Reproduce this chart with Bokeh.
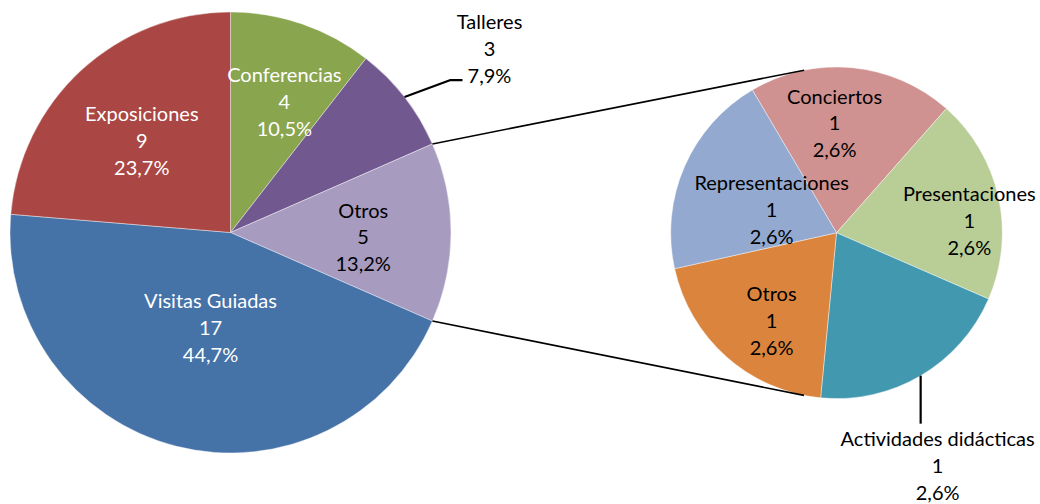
import math
from bokeh.plotting import figure
from bokeh.models import Range1d, ColumnDataSource
from bokeh.core.properties import value
from bokeh.embed import file_html
from bokeh.resources import INLINE

# ---------------- data ----------------
sub_categories = ["Conciertos", "Presentaciones", "Actividades didácticas", "Otros", "Representaciones"]
sub_values = [1, 1, 1, 1, 1]

main_categories = ["Conferencias", "Talleres", "Otros", "Visitas Guiadas", "Exposiciones"]
main_values = [4, 3, sum(sub_values), 17, 9]

# ---------------- styles / layout ----------------
main_colors = ["#89A54E", "#71588F", "#A79BBF", "#4572A7", "#AA4643"]
sub_colors = ["#D09291", "#B9CD96", "#4198AF", "#DB843D", "#93A9CF"]
main_text_colors = ["white", "black", "black", "white", "white"]

W, H = 1040, 504
FONT = "Lato"
FS = "20px"
LH = 1.12


def Y(page_y):
    return H - page_y


MCX, MCY, MR = 230.0, Y(232.0), 220.5
SCX, SCY, SR = 836.0, Y(232.3), 165.8
SUB_ROT = 120.5  # start angle of first secondary slice (deg), clockwise

# label placement: (fraction of radius, angle tweak in deg) ; None = outside label
main_label_pos = [(0.645, -3.3), None, (0.602, -1.7), (0.439, 2.3), (0.582, 1.1)]
sub_label_pos = [(0.666, 6.5), (0.805, -7.1), None, (0.657, 4.9), (0.416, 3.6)]

total = sum(main_values)


def pct(v):
    return ("%.1f" % (100.0 * v / total)).replace(".", ",") + "%"


def slices(values, start_deg):
    s = sum(values)
    out = []
    a = start_deg
    for v in values:
        b = a - 360.0 * v / s
        out.append((a, b))
        a = b
    return out


main_sl = slices(main_values, 90.0)
sub_sl = slices(sub_values, SUB_ROT)

p = figure(width=W, height=H, output_backend="svg", toolbar_location=None,
           x_range=Range1d(0, W), y_range=Range1d(0, H),
           x_axis_type=None, y_axis_type=None, min_border=0,
           outline_line_color=None, background_fill_color="white",
           border_fill_color="white")
p.grid.visible = False

# main pie
msrc = ColumnDataSource(dict(
    start=[math.radians(b) for a, b in main_sl],
    end=[math.radians(a) for a, b in main_sl],
    color=main_colors, cat=main_categories, val=main_values))
p.wedge(x=MCX, y=MCY, radius=MR, start_angle="start", end_angle="end",
        direction="anticlock", fill_color="color", line_color="white",
        line_width=0.6, line_alpha=0.7, source=msrc)

# secondary pie
ssrc = ColumnDataSource(dict(
    start=[math.radians(b) for a, b in sub_sl],
    end=[math.radians(a) for a, b in sub_sl],
    color=sub_colors, cat=sub_categories, val=sub_values))
p.wedge(x=SCX, y=SCY, radius=SR, start_angle="start", end_angle="end",
        direction="anticlock", fill_color="color", line_color="white",
        line_width=0.6, line_alpha=0.7, source=ssrc)

# connector lines (from split edges of "Otros" to tangent points of secondary pie)
oi = main_categories.index("Otros")
a_top, a_bot = main_sl[oi]
for ang, sign in ((a_top, -1), (a_bot, 1)):
    px = MCX + MR * math.cos(math.radians(ang))
    py = MCY + MR * math.sin(math.radians(ang))
    d = math.hypot(px - SCX, py - SCY)
    acp = math.atan2(py - SCY, px - SCX)
    if sign < 0:
        t = acp - math.acos(SR / d)
    else:
        t = acp + math.acos(SR / d)
    tx, ty = SCX + SR * math.cos(t), SCY + SR * math.sin(t)
    p.line([px, tx], [py, ty], line_color="black", line_width=1.6)

# labels inside main pie
lx, ly, lt, lc = [], [], [], []
for i, (cat, v) in enumerate(zip(main_categories, main_values)):
    pos = main_label_pos[i]
    a, b = main_sl[i]
    mid = (a + b) / 2.0
    txt = "%s\n%d\n%s" % (cat, v, pct(v))
    if pos is None:
        # outside label with leader (Talleres)
        ex = MCX + MR * math.cos(math.radians(mid))
        ey = MCY + MR * math.sin(math.radians(mid))
        p.line([ex, ex + 46, ex + 58], [ey, ey + 17, ey + 17],
               line_color="black", line_width=2.2)
        p.text([ex + 85], [ey + 49], text=[txt], text_align="center",
               text_baseline="middle", text_font=value(FONT), text_font_size=FS,
               text_line_height=LH, text_color="black")
        continue
    f, da = pos
    ang = math.radians(mid + da)
    lx.append(MCX + f * MR * math.cos(ang))
    ly.append(MCY + f * MR * math.sin(ang))
    lt.append(txt)
    lc.append(main_text_colors[i])

for i, (cat, v) in enumerate(zip(sub_categories, sub_values)):
    pos = sub_label_pos[i]
    a, b = sub_sl[i]
    mid = (a + b) / 2.0
    txt = "%s\n%d\n%s" % (cat, v, pct(v))
    if pos is None:
        ex = SCX + SR * math.cos(math.radians(mid))
        ey = SCY + SR * math.sin(math.radians(mid))
        p.line([ex, ex], [ey, ey - 48], line_color="black", line_width=2.2)
        p.text([ex + 17], [ey - 89], text=[txt], text_align="center",
               text_baseline="middle", text_font=value(FONT), text_font_size=FS,
               text_line_height=LH, text_color="black")
        continue
    f, da = pos
    ang = math.radians(mid + da)
    lx.append(SCX + f * SR * math.cos(ang))
    ly.append(SCY + f * SR * math.sin(ang))
    lt.append(txt)
    lc.append("black")

p.text(x=lx, y=ly, text=lt, text_color=lc, text_align="center",
       text_baseline="middle", text_font=value(FONT), text_font_size=FS,
       text_line_height=LH)

open("out.html", "w").write(file_html(p, INLINE))
